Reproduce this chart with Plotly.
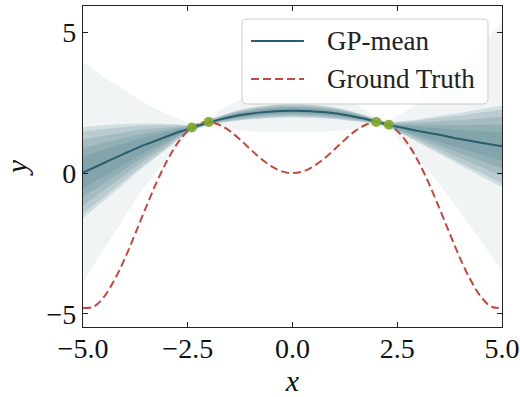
import plotly.graph_objects as go

# ---------------- data ----------------
x_grid = [-5, -4.5, -4, -3.5, -3, -2.7, -2.4, -2.2, -2.0, -1.7, -1.3, -0.8, -0.3, 0,
          0.3, 0.8, 1.3, 1.7, 2.0, 2.15, 2.3, 2.6, 3, 3.5, 4, 4.5, 5]
gp_mean = [0.02, 0.36, 0.70, 1.02, 1.30, 1.47, 1.61, 1.71, 1.80, 1.92, 2.05, 2.15, 2.21, 2.22,
           2.21, 2.16, 2.06, 1.94, 1.83, 1.77, 1.71, 1.62, 1.50, 1.36, 1.21, 1.08, 0.95]
gp_std = [0.87, 0.72, 0.56, 0.40, 0.24, 0.14, 0.05, 0.05, 0.05, 0.07, 0.10, 0.12, 0.13, 0.13,
          0.13, 0.12, 0.10, 0.07, 0.05, 0.05, 0.05, 0.12, 0.22, 0.36, 0.50, 0.64, 0.78]
outer_halfwidth = [3.93, 3.05, 2.25, 1.45, 0.80, 0.45, 0.15, 0.12, 0.15, 0.33, 0.52, 0.68, 0.76, 0.77,
                   0.76, 0.68, 0.52, 0.33, 0.15, 0.12, 0.15, 0.50, 1.00, 1.75, 2.60, 3.50, 4.40]
band_levels = [1.86, 1.68, 1.35, 1.0, 0.65]

x_truth = [-5, -4.75, -4.5, -4.25, -4, -3.75, -3.5, -3.25, -3, -2.75, -2.5, -2.25, -2, -1.75,
           -1.5, -1.25, -1, -0.75, -0.5, -0.25, 0, 0.25, 0.5, 0.75, 1, 1.25, 1.5, 1.75, 2,
           2.25, 2.5, 2.75, 3, 3.25, 3.5, 3.75, 4, 4.25, 4.5, 4.75, 5]
y_truth = [-4.79, -4.75, -4.40, -3.80, -3.03, -2.14, -1.23, -0.35, 0.42, 1.05, 1.50, 1.75, 1.82, 1.72,
           1.50, 1.19, 0.84, 0.51, 0.24, 0.06, 0.00, 0.06, 0.24, 0.51, 0.84, 1.19, 1.50, 1.72, 1.82,
           1.75, 1.50, 1.05, 0.42, -0.35, -1.23, -2.14, -3.03, -3.80, -4.40, -4.75, -4.79]

x_train = [-2.4, -2.0, 2.0, 2.3]
y_train = [1.62, 1.82, 1.82, 1.72]

x_ticks = [-5.0, -2.5, 0.0, 2.5, 5.0]
x_tick_text = ["\u22125.0", "\u22122.5", "0.0", "2.5", "5.0"]
y_ticks = [-5, 0, 5]
y_tick_text = ["\u22125", "0", "5"]

legend_labels = ["GP-mean", "Ground Truth"]

# ---------------- styles ----------------
BAND_RGB = "45,100,116"
MEAN_COLOR = "#285f6e"
TRUTH_COLOR = "#bf4a40"
DOT_COLOR = "rgba(125,168,45,0.9)"
FONT = "Liberation Serif"

fig = go.Figure()

def add_band(lower, upper, alpha):
    fig.add_trace(go.Scatter(x=x_grid, y=lower, mode="lines", line=dict(width=0, shape="spline"),
                             hoverinfo="skip", showlegend=False))
    fig.add_trace(go.Scatter(x=x_grid, y=upper, mode="lines", line=dict(width=0, shape="spline"),
                             fill="tonexty", fillcolor=f"rgba({BAND_RGB},{alpha})",
                             hoverinfo="skip", showlegend=False))

# outer wide band
add_band([m - o for m, o in zip(gp_mean, outer_halfwidth)],
         [m + o for m, o in zip(gp_mean, outer_halfwidth)], 0.07)
# inner bands
for k in band_levels:
    add_band([m - k * s for m, s in zip(gp_mean, gp_std)],
             [m + k * s for m, s in zip(gp_mean, gp_std)], 0.15)

fig.add_trace(go.Scatter(x=x_grid, y=gp_mean, mode="lines",
                         line=dict(color=MEAN_COLOR, width=2, shape="spline"),
                         name=legend_labels[0], showlegend=False))
fig.add_trace(go.Scatter(x=x_truth, y=y_truth, mode="lines",
                         line=dict(color=TRUTH_COLOR, width=2, dash="8px,4px", shape="spline"),
                         name=legend_labels[1], showlegend=False))
fig.add_trace(go.Scatter(x=x_train, y=y_train, mode="markers",
                         marker=dict(color=DOT_COLOR, size=10, line=dict(width=0)),
                         showlegend=False))

# ---------------- custom legend ----------------
lx0, lx1, ly0, ly1 = 0.3795, 0.9666, 0.6947, 0.9595
rx, ry = 5 / 419, 5 / 321
path = (f"M {lx0+rx},{ly0} L {lx1-rx},{ly0} Q {lx1},{ly0} {lx1},{ly0+ry} "
        f"L {lx1},{ly1-ry} Q {lx1},{ly1} {lx1-rx},{ly1} L {lx0+rx},{ly1} "
        f"Q {lx0},{ly1} {lx0},{ly1-ry} L {lx0},{ly0+ry} Q {lx0},{ly0} {lx0+rx},{ly0} Z")
fig.add_shape(type="path", path=path, xref="paper", yref="paper",
              fillcolor="rgba(255,255,255,0.8)", line=dict(color="rgba(204,204,204,1)", width=1))
leg_y = [0.891, 0.7726]
fig.add_shape(type="line", xref="paper", yref="paper", x0=0.401, x1=0.5274, y0=leg_y[0], y1=leg_y[0],
              line=dict(color=MEAN_COLOR, width=2))
fig.add_shape(type="line", xref="paper", yref="paper", x0=0.401, x1=0.5274, y0=leg_y[1], y1=leg_y[1],
              line=dict(color=TRUTH_COLOR, width=2, dash="8px,4px"))
for lab, yy in zip(legend_labels, leg_y):
    fig.add_annotation(text=lab, xref="paper", yref="paper", x=0.5776, y=yy,
                       xanchor="left", yanchor="middle", showarrow=False,
                       font=dict(family=FONT, size=27, color="#222"))

axis_common = dict(showline=True, linecolor="#222", linewidth=1.2, mirror="allticks",
                   ticks="inside", ticklen=5, tickwidth=1, tickcolor="#222",
                   showgrid=False, zeroline=False, automargin=False,
                   ticklabeloverflow="allow",
                   tickfont=dict(family=FONT, size=28, color="#111"))

fig.update_layout(
    width=520, height=397,
    margin=dict(l=83, r=18, t=6, b=70, autoexpand=False),
    paper_bgcolor="white", plot_bgcolor="white",
    showlegend=False,
    xaxis=dict(range=[-5, 5], tickvals=x_ticks, ticktext=x_tick_text,
               ticklabelstandoff=-4,
               title=dict(text="<i>x</i>", font=dict(family=FONT, size=30, color="#111"), standoff=0),
               **axis_common),
    yaxis=dict(range=[-5.47, 5.94], tickvals=y_ticks, ticktext=y_tick_text,
               title=dict(text="<i>y</i>", font=dict(family=FONT, size=30, color="#111"), standoff=10),
               **axis_common),
)

fig.write_html("out.html")
